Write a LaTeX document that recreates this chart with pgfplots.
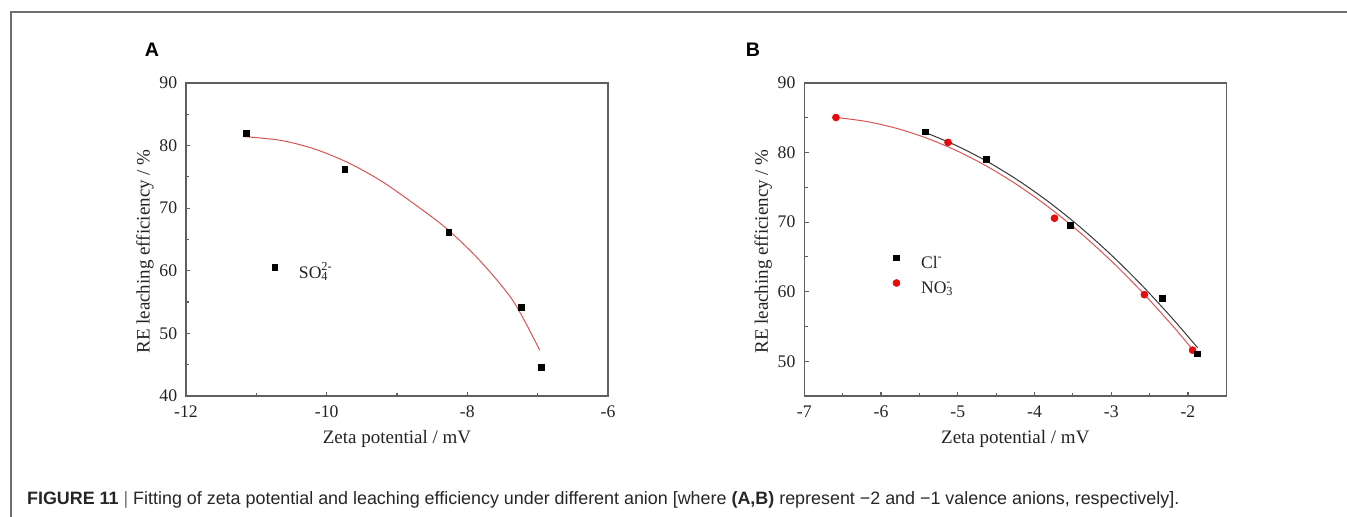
\documentclass[border=0pt]{standalone}
\usepackage{pgfplots}
\pgfplotsset{compat=1.18}
\usepackage{fontspec}
\setmainfont{Liberation Serif}
\newfontfamily\capfont{Liberation Sans}
\definecolor{axgray}{RGB}{95,95,95}
\definecolor{txt}{RGB}{35,35,35}
\definecolor{mred}{RGB}{230,10,10}
\definecolor{fitred}{RGB}{215,85,85}
\definecolor{fitblack}{RGB}{55,55,55}
\definecolor{framegray}{RGB}{110,110,110}

\pgfplotsset{
 myaxis/.style={
  scale only axis, width=211pt, height=156.5pt,
  axis line style={axgray, line width=0.6pt},
  tick style={axgray, line width=0.6pt},
  tick align=inside,
  xtick pos=left, ytick pos=left,
  major tick length=2.2pt, minor tick length=1.6pt,
  ticklabel style={font=\fontsize{8.85}{10}\selectfont, text=txt},
  /pgf/number format/assume math mode=true,
  xticklabel style={yshift=-1.5pt},
  yticklabel style={xshift=-0.9pt},
  label style={font=\fontsize{9.5}{11}\selectfont, text=txt},
  xlabel style={at={(axis description cs:0.5,-0.1361)}, anchor=center},
  ylabel style={at={(axis description cs:-0.0972,0.4617)}, anchor=center},
  xlabel={Zeta potential / mV},
  ylabel={RE leaching efficiency / \%},
  legend style={draw=none, fill=none, inner sep=0pt, outer sep=0pt,
    column sep=9.6pt, row sep=2pt, font=\fontsize{8.8}{10}\selectfont,
    nodes={inner sep=1pt, text height=6.5pt, text depth=2pt, text=txt}},
  legend cell align=left,
  legend image code/.code={\draw[##1] plot coordinates {(1.4pt,3pt)};},
 }
}

\begin{document}
\begin{tikzpicture}
\path[use as bounding box] (0,0) rectangle (673.5pt,258.5pt);
\draw[framegray, line width=0.75pt] (5.5pt,0pt) -- (5.5pt,252.5pt) -- (673.5pt,252.5pt);

\node[font=\capfont\bfseries\fontsize{9.8}{11}\selectfont, inner sep=0pt] at (76pt,233.65pt) {A};
\node[font=\capfont\bfseries\fontsize{9.8}{11}\selectfont, inner sep=0pt] at (376.5pt,233.65pt) {B};

\begin{axis}[myaxis, at={(93pt,60.5pt)}, anchor=south west,
  xmin=-12, xmax=-6, ymin=40, ymax=90,
  xtick={-12,-10,-8,-6}, minor x tick num=1,
  ytick={40,50,...,90}, minor y tick num=1,
  legend style={at={(axis cs:-10.735,59.55)}, anchor=west, xshift=-1.4pt}]
\addplot[fitred, line width=0.5pt, smooth, forget plot] coordinates {
 (-11.19,81.45) (-10.66,80.85) (-10.19,79.52) (-9.715,77.38) (-9.24,74.46)
 (-8.77,70.8) (-8.29,66.7) (-7.82,61.6) (-7.35,55.2) (-6.97,47.3)};
\addplot[only marks, mark=square*, mark size=1.4pt, black] coordinates {
 (-11.14,81.92) (-9.74,76.16) (-8.26,66.15) (-7.23,54.12) (-6.95,44.53)};
\addlegendentry{SO\rlap{\textsubscript{4}}\textsuperscript{2-}}
\end{axis}

\begin{axis}[myaxis, at={(402.15pt,60.5pt)}, anchor=south west,
  xmin=-7, xmax=-1.5, ymin=45, ymax=90,
  xtick={-7,-6,-5,-4,-3,-2}, minor x tick num=1,
  ytick={50,60,...,90}, minor y tick num=1,
  reverse legend,
  legend style={at={(axis cs:-5.807,62.18)}, anchor=west, xshift=-1.4pt}]
\addplot[fitred, line width=0.5pt, smooth, forget plot] coordinates {
 (-6.58,85.04) (-6.18,84.45) (-5.78,83.43) (-5.38,81.97) (-4.98,80.09)
 (-4.58,77.77) (-4.18,75.03) (-3.78,71.85) (-3.38,68.24) (-2.98,64.21)
 (-2.58,59.74) (-2.18,54.84) (-1.94,51.69)};
\addplot[fitblack, line width=0.5pt, smooth, forget plot] coordinates {
 (-5.41,82.83) (-5.01,80.96) (-4.61,78.68) (-4.21,75.98) (-3.81,72.86)
 (-3.41,69.33) (-3.01,65.38) (-2.61,61.02) (-2.21,56.24) (-1.874,51.93)};
\addplot[only marks, mark=*, mark size=1.7pt, mred, mark options={draw=mred, fill=mred}] coordinates {
 (-6.588,85.04) (-5.127,81.46) (-3.739,70.56) (-2.568,59.57) (-1.94,51.59)};
\addlegendentry{NO\rlap{\textsubscript{3}}\textsuperscript{-}}
\addplot[only marks, mark=square*, mark size=1.4pt, black] coordinates {
 (-5.421,82.98) (-4.627,79.0) (-3.535,69.5) (-2.33,59.06) (-1.874,51.07)};
\addlegendentry{Cl\textsuperscript{-}}
\end{axis}

\node[anchor=base west, inner sep=0pt, font=\capfont\fontsize{8.95}{10}\selectfont, text=black!85] at (13.35pt,6pt)
 {\textbf{FIGURE 11} {\color{black!55}|} Fitting of zeta potential and leaching efficiency under different anion [where \textbf{(A,B)} represent −2 and −1 valence anions, respectively].};
\end{tikzpicture}
\end{document}
